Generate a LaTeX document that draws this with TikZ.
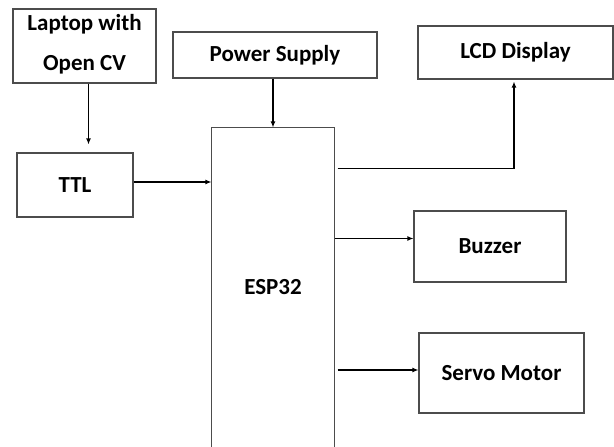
\documentclass[tikz,border=0pt]{standalone}
\usepackage{fontspec}
\setmainfont{Carlito}
\usetikzlibrary{arrows.meta}
\begin{document}
\begin{tikzpicture}[x=1pt,y=-1pt,
    box/.style={draw=black!70,line width=1.1pt,inner sep=0pt,align=center,
      font=\bfseries\fontsize{23}{40}\selectfont},
    arr/.style={line width=1.5pt,-{Latex[length=6pt,width=5pt]}}]
    \useasboundingbox[fill=white] (0,0) rectangle (614,447);
    \node[box,minimum width=143pt,minimum height=74pt,text depth=8pt] (laptop) at (84.5,46) {Laptop with\\Open CV};
    \node[box,minimum width=204pt,minimum height=46pt] (power) at (275,55) {Power Supply};
    \node[box,minimum width=195pt,minimum height=53pt] (lcd) at (515.5,52.5) {LCD Display};
    \node[box,minimum width=116pt,minimum height=64pt] (ttl) at (75,185) {TTL};
    \node[box,draw=none,minimum width=122pt,minimum height=319pt] (esp) at (273,287.5) {ESP32};
    \node[box,minimum width=152pt,minimum height=71pt] (buzzer) at (490,246.5) {Buzzer};
    \node[box,minimum width=165pt,minimum height=80pt] (servo) at (501.5,373) {Servo Motor};
    % ESP32 runs off the bottom edge
    \draw[black!70,line width=1.1pt] (esp.south west) -- (esp.north west) -- (esp.north east) -- (esp.south east);
    \draw[arr,shorten >=8pt] ([xshift=4pt]laptop.south) -- ([xshift=4pt]laptop.south |- ttl.north);
    \draw[arr] (power.south -| esp.north) -- (esp.north);
    \draw[arr] ([yshift=3pt]ttl.east) -- ([yshift=3pt]ttl.east -| esp.west);
    \draw[arr,shorten >=2pt] ([yshift=-41pt,xshift=3pt]esp.north east) -| ([xshift=-1.5pt]lcd.south);
    \draw[arr] ([yshift=8pt]buzzer.west -| esp.east) -- ([yshift=8pt]buzzer.west);
    \draw[arr] ([yshift=3pt,xshift=3pt]servo.west -| esp.east) -- ([yshift=3pt]servo.west);
  \end{tikzpicture}
\end{document}
